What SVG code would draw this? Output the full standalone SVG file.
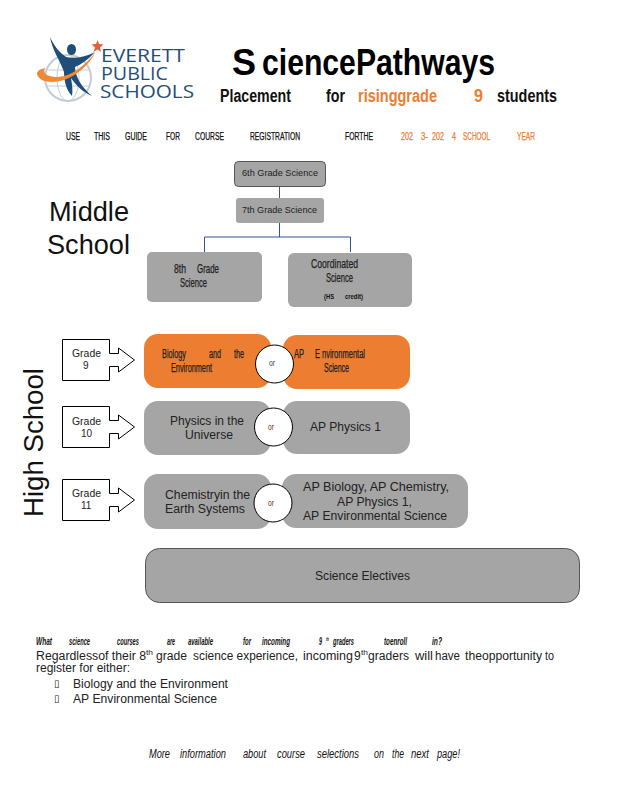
<svg xmlns="http://www.w3.org/2000/svg" width="618" height="800" viewBox="0 0 618 800">
<style>
text{font-family:"Liberation Sans",Arial,sans-serif;fill:#111}
.b{fill:#a5a5a5}
.o{fill:#ed7d31}
.k{stroke:#555;stroke-width:1}
.line{fill:none;stroke:#2f5597;stroke-width:1}
.call{fill:#fff;stroke:#000;stroke-width:1}
.circ{fill:#fff;stroke:#000;stroke-width:1}
.logo{font-family:"Open Sans","Liberation Sans",sans-serif;font-size:18px;fill:#1f4e79}
.h2{font-size:18px;font-weight:bold}
.h3{font-size:10px;stroke:#111;stroke-width:.25}
.or{fill:#ed7d31;stroke:#ed7d31}
.s9{font-size:9px;fill:#222}
.t12{font-size:12px;fill:#222}
.c{stroke:#222;stroke-width:.25}
.gr{font-size:10px;fill:#222}
.orx{font-size:8.5px}
.q{font-size:11px;font-style:italic;font-weight:bold}
.f{font-size:12px;font-style:italic}
</style>
<g id="logo">
<circle cx="68" cy="78" r="23" fill="none" stroke="#c3ccd4" stroke-width="2"/>
<ellipse cx="68" cy="78" rx="11" ry="23" fill="none" stroke="#c3ccd4" stroke-width="1"/>
<path d="M46 70H90M46 86H90" fill="none" stroke="#c3ccd4" stroke-width="1"/>
<ellipse cx="71.500" cy="49.500" rx="4.500" ry="5.500" fill="#1f4e79"/>
<path d="M50 37C54 46 60 53 66 57C74 59 86 57 95 52C88 60 80 65 75 67C75 76 82 88 92 96C82 92 75 84 71 78C72 84 73 90 72 96C66 90 64 80 64 72C61 62 52 50 50 37Z" fill="#1f4e79"/>
<path d="M45 68C40 69 37 71 37 74C38 79 44 82 52 82C68 82 86 70 95 53C84 66 72 76 58 77C50 77 42 75 45 68Z" fill="#ed8a3a"/>
<polygon points="97.500,40 99,44 103.500,44.500 100,47.500 101,52 97.500,49.500 93.500,52 95,47.500 91.500,44.500 96,44" fill="#e2603a"/>
<text class="logo" x="101" y="62" textLength="84" lengthAdjust="spacingAndGlyphs">EVERETT</text>
<text class="logo" x="101" y="80" textLength="67" lengthAdjust="spacingAndGlyphs">PUBLIC</text>
<text class="logo" x="100" y="98" textLength="94" lengthAdjust="spacingAndGlyphs">SCHOOLS</text>
</g>
<g id="title">
<text x="232" y="75" font-size="36" font-weight="bold" style="fill:#000">S</text>
<text x="262" y="75" font-size="36" font-weight="bold" style="fill:#000" textLength="233" lengthAdjust="spacingAndGlyphs">ciencePathways</text>
<text class="h2" x="220" y="102" textLength="71" lengthAdjust="spacingAndGlyphs">Placement</text>
<text class="h2" x="326" y="102" textLength="19" lengthAdjust="spacingAndGlyphs">for</text>
<text class="h2 or" x="358" y="102" style="stroke:none" textLength="79" lengthAdjust="spacingAndGlyphs">risinggrade</text>
<text class="h2 or" x="474" y="102" style="stroke:none" textLength="9" lengthAdjust="spacingAndGlyphs">9</text>
<text class="h2" x="497" y="102" textLength="60" lengthAdjust="spacingAndGlyphs">students</text>
</g>
<g id="guide-line">
<text class="h3" x="66" y="140" textLength="14" lengthAdjust="spacingAndGlyphs">USE</text>
<text class="h3" x="94" y="140" textLength="16" lengthAdjust="spacingAndGlyphs">THIS</text>
<text class="h3" x="125" y="140" textLength="22" lengthAdjust="spacingAndGlyphs">GUIDE</text>
<text class="h3" x="166" y="140" textLength="14" lengthAdjust="spacingAndGlyphs">FOR</text>
<text class="h3" x="195" y="140" textLength="29" lengthAdjust="spacingAndGlyphs">COURSE</text>
<text class="h3" x="250" y="140" textLength="50" lengthAdjust="spacingAndGlyphs">REGISTRATION</text>
<text class="h3" x="345" y="140" textLength="28" lengthAdjust="spacingAndGlyphs">FORTHE</text>
<text class="h3 or" x="401" y="140" textLength="12" lengthAdjust="spacingAndGlyphs">202</text>
<text class="h3 or" x="421" y="140" textLength="7" lengthAdjust="spacingAndGlyphs">3-</text>
<text class="h3 or" x="432" y="140" textLength="12" lengthAdjust="spacingAndGlyphs">202</text>
<text class="h3 or" x="452" y="140" textLength="4" lengthAdjust="spacingAndGlyphs">4</text>
<text class="h3 or" x="463" y="140" textLength="27" lengthAdjust="spacingAndGlyphs">SCHOOL</text>
<text class="h3 or" x="517" y="140" textLength="18" lengthAdjust="spacingAndGlyphs">YEAR</text>
</g>
<g id="section-labels">
<text x="49" y="221" font-size="27" textLength="80" lengthAdjust="spacingAndGlyphs">Middle</text>
<text x="47" y="254" font-size="27" textLength="83" lengthAdjust="spacingAndGlyphs">School</text>
<text transform="translate(43 517) rotate(-90)" font-size="27" textLength="149" lengthAdjust="spacingAndGlyphs">High School</text>
</g>
<g id="connectors">
<path class="line" d="M279.500 186V198M279.500 223V237M204.500 252V237H350.500V252"/>
</g>
<g id="n6"><rect class="b k" x="234.500" y="161.500" width="91" height="25" rx="4"/><text class="s9" x="242" y="176" textLength="76" lengthAdjust="spacingAndGlyphs">6th Grade Science</text></g>
<g id="n7"><rect class="b" x="236" y="198" width="88" height="25" rx="3"/><text class="s9" x="242" y="213" textLength="75" lengthAdjust="spacingAndGlyphs">7th Grade Science</text></g>
<g id="n8"><rect class="b" x="147" y="252" width="115" height="50" rx="5"/>
<text class="t12 c" x="174" y="273" textLength="12" lengthAdjust="spacingAndGlyphs">8th</text>
<text class="t12 c" x="197" y="273" textLength="22" lengthAdjust="spacingAndGlyphs">Grade</text>
<text class="t12 c" x="180" y="287" textLength="27" lengthAdjust="spacingAndGlyphs">Science</text></g>
<g id="ncoord"><rect class="b" x="288" y="253" width="124" height="54" rx="6"/>
<text class="t12 c" x="311" y="268" textLength="47" lengthAdjust="spacingAndGlyphs">Coordinated</text>
<text class="t12 c" x="326" y="282" textLength="27" lengthAdjust="spacingAndGlyphs">Science</text>
<text x="324" y="299" font-size="8" font-weight="bold" textLength="10" lengthAdjust="spacingAndGlyphs">(HS</text>
<text x="345" y="299" font-size="8" font-weight="bold" textLength="18" lengthAdjust="spacingAndGlyphs">credit)</text></g>
<g id="g9"><path class="call" d="M62.500 339.500H109.500V353.500H118.500V348L134.500 360L118.500 372V366.500H109.500V380.500H62.500Z"/>
<text class="gr" x="72" y="357" textLength="29" lengthAdjust="spacingAndGlyphs">Grade</text><text class="gr" x="83" y="369">9</text></g>
<g id="g10"><path class="call" d="M62.500 406.500H109.500V420.500H118.500V415L134.500 427L118.500 439V433.500H109.500V447.500H62.500Z"/>
<text class="gr" x="72" y="425" textLength="29" lengthAdjust="spacingAndGlyphs">Grade</text><text class="gr" x="81" y="437">10</text></g>
<g id="g11"><path class="call" d="M62.500 479.500H109.500V493.500H118.500V488L134.500 500L118.500 512V506.500H109.500V520.500H62.500Z"/>
<text class="gr" x="72" y="497" textLength="29" lengthAdjust="spacingAndGlyphs">Grade</text><text class="gr" x="81" y="509">11</text></g>
<g id="bio"><rect class="o" x="144" y="334" width="127" height="54" rx="14"/>
<text class="t12 c" x="162" y="358" textLength="24" lengthAdjust="spacingAndGlyphs">Biology</text>
<text class="t12 c" x="209" y="358" textLength="12" lengthAdjust="spacingAndGlyphs">and</text>
<text class="t12 c" x="234" y="358" textLength="10" lengthAdjust="spacingAndGlyphs">the</text>
<text class="t12 c" x="171" y="372" textLength="41" lengthAdjust="spacingAndGlyphs">Environment</text></g>
<g id="apenv"><rect class="o" x="283" y="335" width="127" height="54" rx="14"/>
<text class="t12 c" x="294" y="358" textLength="10" lengthAdjust="spacingAndGlyphs">AP</text>
<text class="t12 c" x="315" y="358" textLength="5" lengthAdjust="spacingAndGlyphs">E</text>
<text class="t12 c" x="322" y="358" textLength="43" lengthAdjust="spacingAndGlyphs">nvironmental</text>
<text class="t12 c" x="324" y="372" textLength="25" lengthAdjust="spacingAndGlyphs">Science</text></g>
<g id="or1"><circle class="circ" cx="274.500" cy="364" r="19"/><text class="orx" x="269" y="366" style="fill:#1f3864" textLength="6" lengthAdjust="spacingAndGlyphs">or</text></g>
<g id="phys"><rect class="b" x="144" y="401" width="127" height="54" rx="14"/>
<text class="t12" x="170" y="425" textLength="74" lengthAdjust="spacingAndGlyphs">Physics in the</text>
<text class="t12" x="185" y="439" textLength="48" lengthAdjust="spacingAndGlyphs">Universe</text></g>
<g id="apphys"><rect class="b" x="283" y="401" width="127" height="53" rx="14"/>
<text class="t12" x="310" y="431" textLength="71" lengthAdjust="spacingAndGlyphs">AP Physics 1</text></g>
<g id="or2"><circle class="circ" cx="273.500" cy="427" r="19"/><text class="orx" x="268" y="430" style="fill:#7b1e0a" textLength="6" lengthAdjust="spacingAndGlyphs">or</text></g>
<g id="chem"><rect class="b" x="144" y="474" width="127" height="55" rx="14"/>
<text class="t12" x="165" y="499" textLength="85" lengthAdjust="spacingAndGlyphs">Chemistryin the</text>
<text class="t12" x="165" y="513" textLength="80" lengthAdjust="spacingAndGlyphs">Earth Systems</text></g>
<g id="aps"><rect class="b" x="282" y="474" width="186" height="54" rx="14"/>
<text class="t12" x="303" y="491" textLength="146" lengthAdjust="spacingAndGlyphs">AP Biology, AP Chemistry,</text>
<text class="t12" x="337" y="506" textLength="75" lengthAdjust="spacingAndGlyphs">AP Physics 1,</text>
<text class="t12" x="303" y="520" textLength="144" lengthAdjust="spacingAndGlyphs">AP Environmental Science</text></g>
<g id="or3"><circle class="circ" cx="273" cy="503" r="19"/><text class="orx" x="268" y="506" style="fill:#7b1e0a" textLength="6" lengthAdjust="spacingAndGlyphs">or</text></g>
<g id="electives"><rect class="b k" x="145.500" y="548.500" width="434" height="54" rx="14"/>
<text class="t12" x="315" y="580" textLength="95" lengthAdjust="spacingAndGlyphs">Science Electives</text></g>
<g id="question">
<text class="q" x="36" y="645" textLength="16" lengthAdjust="spacingAndGlyphs">What</text>
<text class="q" x="69" y="645" textLength="21" lengthAdjust="spacingAndGlyphs">science</text>
<text class="q" x="117" y="645" textLength="22" lengthAdjust="spacingAndGlyphs">courses</text>
<text class="q" x="167" y="645" textLength="8" lengthAdjust="spacingAndGlyphs">are</text>
<text class="q" x="188" y="645" textLength="25" lengthAdjust="spacingAndGlyphs">available</text>
<text class="q" x="243" y="645" textLength="8" lengthAdjust="spacingAndGlyphs">for</text>
<text class="q" x="262" y="645" textLength="28" lengthAdjust="spacingAndGlyphs">incoming</text>
<text class="q" x="319" y="645" textLength="3" lengthAdjust="spacingAndGlyphs">9</text>
<text x="326" y="641" font-size="5" font-weight="bold" font-style="italic" textLength="3" lengthAdjust="spacingAndGlyphs">th</text>
<text class="q" x="333" y="645" textLength="21" lengthAdjust="spacingAndGlyphs">graders</text>
<text class="q" x="384" y="645" textLength="23" lengthAdjust="spacingAndGlyphs">toenroll</text>
<text class="q" x="432" y="645" textLength="10" lengthAdjust="spacingAndGlyphs">in?</text>
</g>
<g id="body">
<text class="t12" x="36" y="660" textLength="110" lengthAdjust="spacingAndGlyphs">Regardlessof their 8</text>
<text x="146" y="655" font-size="7" style="fill:#222" textLength="7" lengthAdjust="spacingAndGlyphs">th</text>
<text class="t12" x="156" y="660" textLength="31" lengthAdjust="spacingAndGlyphs">grade</text>
<text class="t12" x="193" y="660" textLength="105" lengthAdjust="spacingAndGlyphs">science experience,</text>
<text class="t12" x="303" y="660" textLength="50" lengthAdjust="spacingAndGlyphs">incoming</text>
<text class="t12" x="354" y="660">9</text>
<text x="361" y="655" font-size="7" style="fill:#222" textLength="7" lengthAdjust="spacingAndGlyphs">th</text>
<text class="t12" x="368" y="660" textLength="41" lengthAdjust="spacingAndGlyphs">graders</text>
<text class="t12" x="415" y="660" textLength="18" lengthAdjust="spacingAndGlyphs">will</text>
<text class="t12" x="435" y="660" textLength="25" lengthAdjust="spacingAndGlyphs">have</text>
<text class="t12" x="465" y="660" textLength="77" lengthAdjust="spacingAndGlyphs">theopportunity</text>
<text class="t12" x="545" y="660" textLength="9" lengthAdjust="spacingAndGlyphs">to</text>
<text class="t12" x="36" y="672" textLength="94" lengthAdjust="spacingAndGlyphs">register for either:</text>
<text x="54" y="687" font-size="10" style='font-family:"DejaVu Sans",sans-serif;fill:#222'>▯</text>
<text class="t12" x="73" y="688" textLength="155" lengthAdjust="spacingAndGlyphs">Biology and the Environment</text>
<text x="54" y="702" font-size="10" style='font-family:"DejaVu Sans",sans-serif;fill:#222'>▯</text>
<text class="t12" x="73" y="703" textLength="144" lengthAdjust="spacingAndGlyphs">AP Environmental Science</text>
</g>
<g id="footer">
<text class="f" x="149" y="758" textLength="21" lengthAdjust="spacingAndGlyphs">More</text>
<text class="f" x="180" y="758" textLength="46" lengthAdjust="spacingAndGlyphs">information</text>
<text class="f" x="243" y="758" textLength="23" lengthAdjust="spacingAndGlyphs">about</text>
<text class="f" x="277" y="758" textLength="28" lengthAdjust="spacingAndGlyphs">course</text>
<text class="f" x="317" y="758" textLength="42" lengthAdjust="spacingAndGlyphs">selections</text>
<text class="f" x="374" y="758" textLength="10" lengthAdjust="spacingAndGlyphs">on</text>
<text class="f" x="392" y="758" textLength="12" lengthAdjust="spacingAndGlyphs">the</text>
<text class="f" x="411" y="758" textLength="18" lengthAdjust="spacingAndGlyphs">next</text>
<text class="f" x="437" y="758" textLength="23" lengthAdjust="spacingAndGlyphs">page!</text>
</g>
</svg>
